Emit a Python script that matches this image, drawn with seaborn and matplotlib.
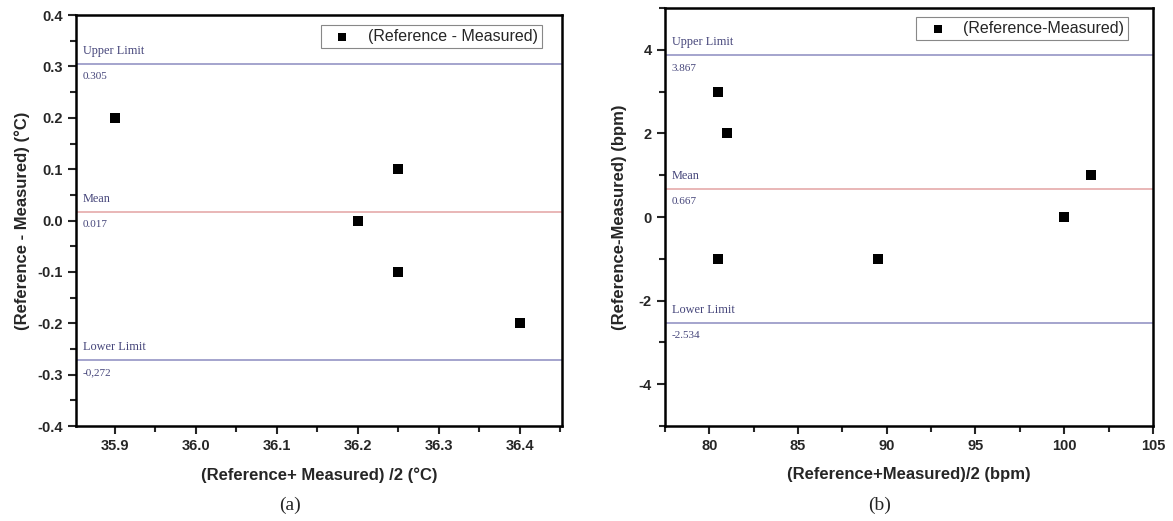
import numpy as np
import pandas as pd
import matplotlib
matplotlib.use('Agg')
import matplotlib.pyplot as plt
import seaborn as sns
from matplotlib.ticker import MultipleLocator

# --- data ---
temp_mean = [35.9, 36.2, 36.25, 36.25, 36.4]
temp_diff = [0.2, 0.0, 0.1, -0.1, -0.2]
temp_limits = {'upper': 0.305, 'mean': 0.017, 'lower': -0.272}
temp_labels = ['0.305', '0.017', '-0,272']

hr_mean = [80.5, 81.0, 80.5, 89.5, 100.0, 101.5]
hr_diff = [3, 2, -1, -1, 0, 1]
hr_limits = {'upper': 3.867, 'mean': 0.667, 'lower': -2.534}
hr_labels = ['3.867', '0.667', '-2.534']

df_t = pd.DataFrame({'avg': temp_mean, 'diff': temp_diff})
df_h = pd.DataFrame({'avg': hr_mean, 'diff': hr_diff})

sns.set_style('white')
plt.rcParams['font.family'] = ['Liberation Sans', 'DejaVu Sans']
plt.rcParams['axes.unicode_minus'] = False

fig = plt.figure(figsize=(11.73, 5.21), dpi=100)
ax1 = fig.add_axes([0.0648, 0.1823, 0.4142, 0.7887])
ax2 = fig.add_axes([0.5669, 0.1823, 0.4160, 0.8023])

limit_col = '#8c8cc0'
mean_col = '#e3a3a3'
text_col = '#45457a'


def draw_panel(ax, df, limits, vals, legend_label, leg_anchor):
    sns.scatterplot(data=df, x='avg', y='diff', marker='s', color='black',
                    s=50, edgecolor='black', linewidth=0, label=legend_label, ax=ax)
    names = [('upper', 'Upper Limit', limit_col),
             ('mean', 'Mean', mean_col),
             ('lower', 'Lower Limit', limit_col)]
    x0 = ax.get_xlim()[0]
    for (key, name, col), v in zip(names, vals):
        y = limits[key]
        ax.axhline(y, color=col, lw=1.1, zorder=1)
        ax.annotate(name, (x0, y), xytext=(5, 5), textcoords='offset points',
                    ha='left', va='bottom', fontsize=8.8, family='Liberation Serif',
                    color=text_col)
        ax.annotate(v, (x0, y), xytext=(5, -6), textcoords='offset points',
                    ha='left', va='top', fontsize=8, family='Liberation Serif',
                    color=text_col)
    for sp in ax.spines.values():
        sp.set_linewidth(1.8)
        sp.set_color('black')
    ax.tick_params(which='both', direction='out', left=True, bottom=True,
                   top=False, right=False, width=1.5, labelsize=10.5)
    ax.tick_params(which='major', length=6)
    ax.tick_params(which='minor', length=4)
    for lab in ax.get_xticklabels() + ax.get_yticklabels():
        lab.set_fontweight('bold')
    leg = ax.legend(loc='upper right', bbox_to_anchor=leg_anchor, fancybox=False,
                    framealpha=1, edgecolor='#888888', fontsize=11.5,
                    handletextpad=0.5, handlelength=2.2, borderpad=0.25,
                    borderaxespad=0, markerscale=0.9)
    leg.get_frame().set_linewidth(0.8)


# panel (a): temperature
ax1.set_xlim(35.852, 36.452)
ax1.set_ylim(-0.4, 0.4)
ax1.xaxis.set_major_locator(MultipleLocator(0.1))
ax1.xaxis.set_minor_locator(MultipleLocator(0.05))
ax1.yaxis.set_major_locator(MultipleLocator(0.1))
ax1.yaxis.set_minor_locator(MultipleLocator(0.05))
draw_panel(ax1, df_t, temp_limits, temp_labels, '(Reference - Measured)', (0.959, 0.976))
ax1.set_xlabel('(Reference+ Measured) /2 (°C)', fontsize=12, fontweight='bold', labelpad=10)
ax1.set_ylabel('(Reference - Measured) (°C)', fontsize=12, fontweight='bold', labelpad=5)

# panel (b): heart rate
ax2.set_xlim(77.5, 105)
ax2.set_ylim(-5, 5)
ax2.xaxis.set_major_locator(MultipleLocator(5))
ax2.xaxis.set_minor_locator(MultipleLocator(2.5))
ax2.yaxis.set_major_locator(MultipleLocator(2))
ax2.yaxis.set_minor_locator(MultipleLocator(1))
draw_panel(ax2, df_h, hr_limits, hr_labels, '(Reference-Measured)', (0.949, 0.978))
ax2.set_xlabel('(Reference+Measured)/2 (bpm)', fontsize=12, fontweight='bold', labelpad=10)
ax2.set_ylabel('(Reference-Measured) (bpm)', fontsize=12, fontweight='bold', labelpad=8)

fig.text(0.2472, 0.03, '(a)', ha='center', va='center', fontsize=14, family='Liberation Serif')
fig.text(0.7502, 0.03, '(b)', ha='center', va='center', fontsize=14, family='Liberation Serif')

fig.savefig('out.png', dpi=100)
